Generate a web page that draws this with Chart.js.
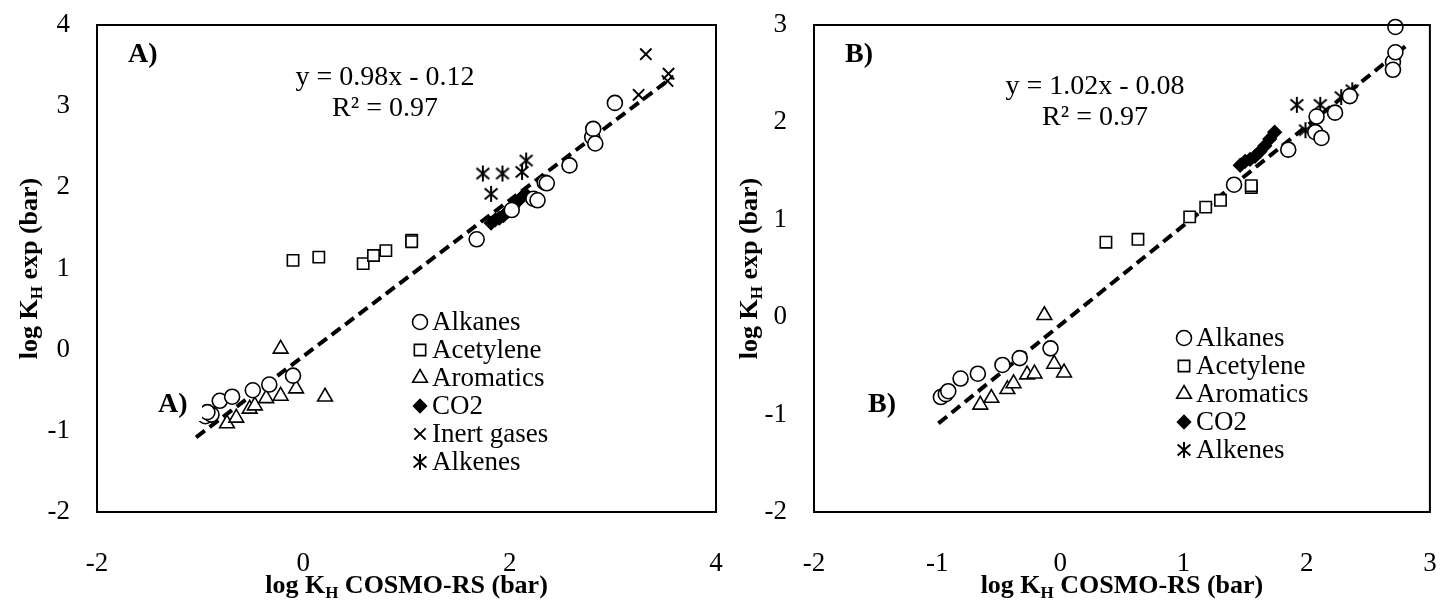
<!DOCTYPE html>
<html>
<head>
<meta charset="utf-8">
<script src="https://cdn.jsdelivr.net/npm/chart.js@4"></script>
<style>
  body { margin: 0; background: #fff; }
  canvas { position: absolute; top: 0; left: 0; }
</style>
</head>
<body>
<canvas id="chartA" width="1440" height="601"></canvas>
<canvas id="chartB" width="1440" height="601"></canvas>
<script>
// ---------- data: panel A ----------
var alkanesA = [[-0.95,-0.82],[-0.89,-0.80],[-0.93,-0.77],[-0.81,-0.63],[-0.69,-0.58],[-0.49,-0.50],[-0.33,-0.43],[-0.10,-0.32],
  [1.68,1.36],[2.02,1.72],[2.23,1.86],[2.27,1.84],[2.34,2.06],[2.36,2.05],[2.58,2.27],[2.80,2.62],[2.81,2.72],[2.83,2.54],[3.02,3.04]];
var acetyleneA = [[-0.10,1.10],[0.15,1.14],[0.58,1.06],[0.68,1.16],[0.80,1.22],[1.05,1.35],[1.05,1.33]];
var aromaticsA = [[-0.22,0.01],[-0.74,-0.91],[-0.65,-0.84],[-0.52,-0.73],[-0.47,-0.69],[-0.36,-0.60],[-0.22,-0.57],[-0.07,-0.48],[0.21,-0.58]];
var co2A = [[1.82,1.56],[1.86,1.60],[1.90,1.62],[1.94,1.65],[1.98,1.70],[2.03,1.76],[2.08,1.83],[2.15,1.92]];
var inertA = [[3.32,3.64],[3.54,3.40],[3.53,3.31],[3.25,3.14]];
var alkenesA = [[1.74,2.17],[1.93,2.17],[2.12,2.19],[1.82,1.92],[2.16,2.33]];
var trendA = [[-1.04,-1.08],[3.57,3.35]];

// ---------- data: panel B ----------
var alkanesB = [[-0.97,-0.82],[-0.93,-0.79],[-0.91,-0.76],[-0.81,-0.63],[-0.67,-0.58],[-0.47,-0.49],[-0.33,-0.42],[-0.08,-0.32],
  [1.41,1.36],[1.85,1.72],[2.07,1.90],[2.12,1.84],[2.08,2.06],[2.23,2.10],[2.35,2.27],[2.70,2.62],[2.72,2.72],[2.70,2.54],[2.72,2.98]];
var acetyleneB = [[0.37,0.77],[0.63,0.80],[1.05,1.03],[1.18,1.13],[1.30,1.20],[1.55,1.33],[1.55,1.35]];
var aromaticsB = [[-0.13,0.02],[-0.65,-0.90],[-0.56,-0.83],[-0.43,-0.74],[-0.38,-0.68],[-0.27,-0.59],[-0.21,-0.58],[-0.05,-0.48],[0.03,-0.57]];
var co2B = [[1.46,1.56],[1.50,1.60],[1.54,1.62],[1.58,1.65],[1.62,1.70],[1.66,1.76],[1.70,1.83],[1.74,1.90]];
var alkenesB = [[1.92,2.18],[2.11,2.18],[1.99,1.92],[2.28,2.26],[2.37,2.33]];
var trendB = [[-0.99,-1.09],[2.80,2.78]];

var SERIF = "'Liberation Serif', 'Times New Roman', serif";

// six-armed asterisk marker like the spreadsheet one
function asterisk(r) {
  var c = document.createElement('canvas');
  c.width = c.height = r * 2 + 4;
  var g = c.getContext('2d');
  var m = r + 2;
  g.strokeStyle = '#000'; g.lineWidth = 2;
  g.beginPath();
  g.moveTo(m, m - r); g.lineTo(m, m + r);
  g.moveTo(m - r * 0.8, m - r * 0.7); g.lineTo(m + r * 0.8, m + r * 0.7);
  g.moveTo(m + r * 0.8, m - r * 0.7); g.lineTo(m - r * 0.8, m + r * 0.7);
  g.stroke();
  return c;
}
var starImg = asterisk(8);

function pts(a) { return a.map(function (p) { return { x: p[0], y: p[1] }; }); }

var styles = {
  'Alkanes': { shape: 'circle', r: 7.5 },
  'Acetylene': { shape: 'rect', r: 8 },
  'Aromatics': { shape: 'triangle', r: 8.5 },
  'CO2': { shape: 'rectRot', r: 6.5, fill: '#000' },
  'Inert gases': { shape: 'crossRot', r: 8, w: 2 },
  'Alkenes': { shape: starImg, r: 8 }
};

// overlay: axis titles with subscript H, legend, equation, panel tags
var overlay = {
  id: 'overlay',
  afterDraw: function (chart) {
    var o = chart.options.plugins.overlay;
    var ctx = chart.ctx, a = chart.chartArea;
    ctx.save();
    ctx.fillStyle = '#000';
    ctx.textBaseline = 'middle';

    function subTitle(x, y, rot, rest) {
      var big = 'bold 26px ' + SERIF, small = 'bold 17px ' + SERIF;
      ctx.save();
      ctx.translate(x, y);
      ctx.rotate(rot);
      ctx.font = big; var w1 = ctx.measureText('log K').width;
      ctx.font = small; var w2 = ctx.measureText('H').width;
      ctx.font = big; var w3 = ctx.measureText(rest).width;
      var x0 = -(w1 + w2 + w3) / 2;
      ctx.textAlign = 'left';
      ctx.fillText('log K', x0, 0);
      ctx.font = small; ctx.fillText('H', x0 + w1, 8);
      ctx.font = big; ctx.fillText(rest, x0 + w1 + w2, 0);
      ctx.restore();
    }
    subTitle((a.left + a.right) / 2, 586, 0, ' COSMO-RS (bar)');
    subTitle(o.yTitleX, (a.top + a.bottom) / 2, -Math.PI / 2, ' exp (bar)');

    // trendline equation
    ctx.font = '28px ' + SERIF;
    ctx.textAlign = 'center';
    ctx.fillText(o.eq[0], o.eqX, o.eqY);
    ctx.fillText(o.eq[1], o.eqX, o.eqY + 31);

    // panel tags, the inner one on a white box
    ctx.font = 'bold 28px ' + SERIF;
    ctx.textAlign = 'left';
    ctx.fillText(o.tag, o.tag1[0], o.tag1[1]);
    ctx.fillStyle = '#fff';
    ctx.fillRect(o.tag2[0] - 6, o.tag2[1] - 16, 50, 32);
    ctx.fillStyle = '#000';
    ctx.fillText(o.tag, o.tag2[0], o.tag2[1]);

    // legend
    ctx.font = '27px ' + SERIF;
    var y = o.legY;
    chart.data.datasets.forEach(function (d) {
      if (!d.inLegend) return;
      ctx.fillStyle = d.backgroundColor;
      ctx.strokeStyle = '#000';
      ctx.lineWidth = d.pointBorderWidth;
      Chart.helpers.drawPoint(ctx, {
        pointStyle: d.pointStyle, radius: d.pointRadius, rotation: 0,
        borderWidth: d.pointBorderWidth
      }, o.legX, y);
      ctx.fillStyle = '#000';
      ctx.fillText(d.label, o.legX + 12, y + 1);
      y += o.legStep;
    });
    ctx.restore();
  }
};

var frame = {
  id: 'frame',
  afterDatasetsDraw: function (c) {
    var a = c.chartArea, ctx = c.ctx;
    ctx.save();
    ctx.strokeStyle = '#000'; ctx.lineWidth = 2;
    ctx.strokeRect(a.left, a.top, a.right - a.left, a.bottom - a.top);
    ctx.restore();
  }
};

// box = plot area in page pixels: left, right, top, bottom
function makeChart(id, groups, trend, xr, yr, box, o) {
  var sets = groups.map(function (g) {
    var st = styles[g[0]];
    return {
      label: g[0], data: pts(g[1]), inLegend: true, clip: false,
      pointStyle: st.shape, pointRadius: st.r,
      borderColor: '#000', backgroundColor: st.fill || '#fff',
      pointBorderWidth: st.w || 1.6, showLine: false
    };
  });
  sets.push({
    label: 'trend', data: pts(trend), showLine: true, pointRadius: 0,
    borderColor: '#000', borderWidth: 4, borderDash: [11, 6], fill: false
  });
  return new Chart(document.getElementById(id), {
    type: 'scatter',
    data: { datasets: sets },
    options: {
      responsive: false, animation: false,
      layout: { padding: { top: box[2], right: 1440 - box[1], left: 0, bottom: 0 } },
      plugins: { legend: { display: false }, tooltip: { enabled: false }, overlay: o },
      scales: {
        x: {
          min: xr[0], max: xr[1],
          ticks: { stepSize: xr[2], color: '#000', font: { family: SERIF, size: 27 }, padding: 36, maxRotation: 0 },
          grid: { display: false, drawTicks: false },
          border: { display: false },
          afterFit: function (s) { s.height = 601 - box[3]; s.paddingLeft = 0; s.paddingRight = 0; }
        },
        y: {
          min: yr[0], max: yr[1],
          ticks: { stepSize: 1, color: '#000', font: { family: SERIF, size: 27 }, padding: 27 },
          grid: { display: false, drawTicks: false },
          border: { display: false },
          afterFit: function (s) { s.width = box[0]; s.paddingTop = 0; s.paddingBottom = 0; }
        }
      }
    },
    plugins: [overlay, frame]
  });
}

makeChart('chartA',
  [['Alkanes', alkanesA], ['Acetylene', acetyleneA], ['Aromatics', aromaticsA], ['CO2', co2A], ['Inert gases', inertA], ['Alkenes', alkenesA]],
  trendA, [-2, 4, 2], [-2, 4], [97, 716, 25, 512],
  { yTitleX: 30, eq: ['y = 0.98x - 0.12', 'R² = 0.97'], eqX: 385, eqY: 78,
    tag: 'A)', tag1: [128, 55], tag2: [158, 405], legX: 420, legY: 322, legStep: 28 });

makeChart('chartB',
  [['Alkanes', alkanesB], ['Acetylene', acetyleneB], ['Aromatics', aromaticsB], ['CO2', co2B], ['Alkenes', alkenesB]],
  trendB, [-2, 3, 1], [-2, 3], [814, 1432, 25, 512],
  { yTitleX: 750, eq: ['y = 1.02x - 0.08', 'R² = 0.97'], eqX: 1095, eqY: 87,
    tag: 'B)', tag1: [845, 55], tag2: [868, 405], legX: 1184, legY: 338, legStep: 28 });
</script>
</body>
</html>
